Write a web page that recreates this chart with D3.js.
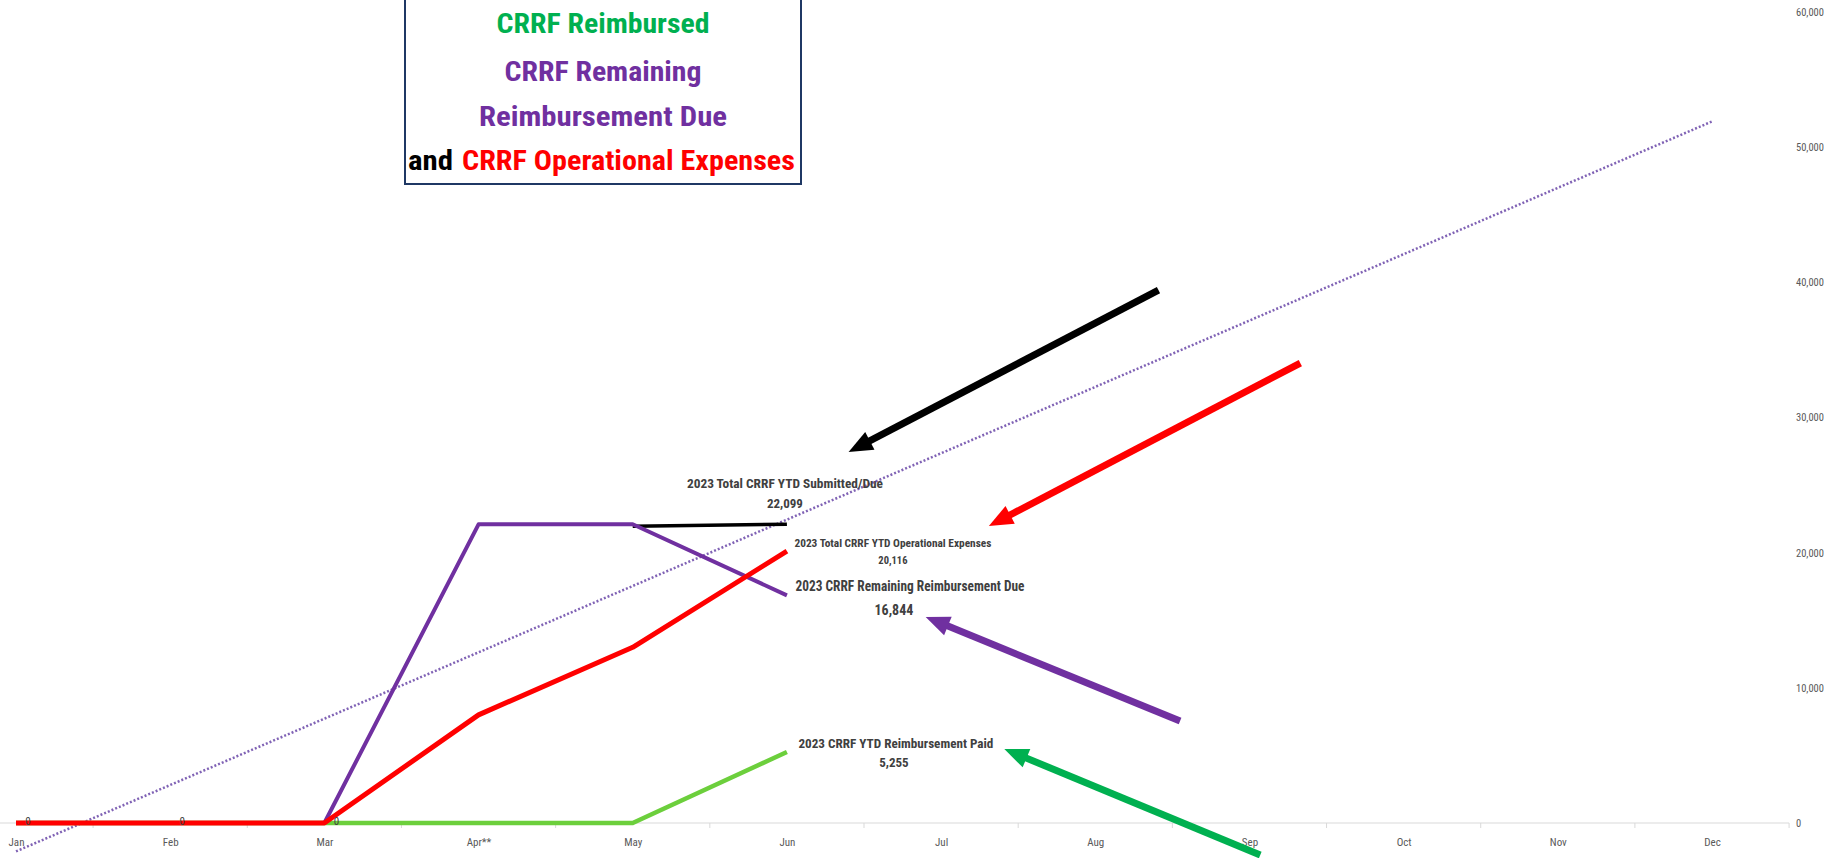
<!DOCTYPE html>
<html>
<head>
<meta charset="utf-8">
<script src="https://cdn.jsdelivr.net/npm/d3@7"></script>
<style>
  body { margin: 0; background: #fff; }
  svg { display: block; }
  .cond { font-family: "Liberation Sans Narrow", "Arial Narrow", "Roboto Condensed", "Liberation Sans", sans-serif; }
</style>
</head>
<body>
<div id="chart"></div>
<script>
let months = ['Jan', 'Feb', 'Mar', 'Apr**', 'May', 'Jun', 'Jul', 'Aug', 'Sep', 'Oct', 'Nov', 'Dec']
let yTicks = [0, 10000, 20000, 30000, 40000, 50000, 60000]

// series values (null = no data yet)
let reimbursed = [0, 0, 0, 0, 0, 5255, null, null, null, null, null, null]
let remaining = [0, 0, 0, 22099, 22099, 16844, null, null, null, null, null, null]
let operational = [0, 0, 0, 8000, 13000, 20116, null, null, null, null, null, null]
let submitted = [null, null, null, null, 21950, 22099, null, null, null, null, null, null]
let zeroLabels = [0, 0, 0]
// linear trend of remaining due, Jan -> Dec
let trendEnds = [-2100, 51900]

// arrows as [monthIndex, value] pairs: start -> tip
let arrows = [
  { color: '#000000', from: [7.41, 39430], to: [5.40, 27450] },
  { color: '#ff0000', from: [8.33, 34030], to: [6.31, 21970] },
  { color: '#7030a0', from: [7.55, 7550], to: [5.90, 15240] },
  { color: '#00b050', from: [8.07, -2370], to: [6.41, 5480] }
]

let width = 1826, height = 858

let svg = d3.select('#chart')
  .append('svg')
  .attr('width', width)
  .attr('height', height)

let x = d3.scalePoint().domain(months).range([16, 1712])
let xi = d3.scaleLinear().domain([0, 11]).range([16, 1712])
let y = d3.scaleLinear().domain([0, 60000]).range([823, 12])
let step = x.step()

// x axis
let xAxis = svg.append('g')
  .attr('class', 'cond')
  .attr('transform', 'translate(0,' + y(0) + ')')
  .call(d3.axisBottom(x).tickSize(0).tickPadding(15))
xAxis.select('.domain').remove()
xAxis.selectAll('text').attr('fill', '#595959').style('font-size', '11px')
xAxis.append('line')
  .attr('x1', x('Jan') - step / 2).attr('x2', x('Dec') + step / 2)
  .attr('stroke', '#d9d9d9').attr('stroke-width', 1.2)
xAxis.selectAll('.bound')
  .data(months.slice(1).concat(['end']))
  .enter().append('line')
  .attr('x1', (d, i) => xi(i) + step / 2)
  .attr('x2', (d, i) => xi(i) + step / 2)
  .attr('y1', 0).attr('y2', 5)
  .attr('stroke', '#d9d9d9')

// y axis on right
let yAxis = svg.append('g')
  .attr('class', 'cond')
  .attr('transform', 'translate(1796,0)')
  .call(d3.axisRight(y).tickValues(yTicks).tickSize(0).tickPadding(0).tickFormat(d3.format(',')))
yAxis.select('.domain').remove()
yAxis.selectAll('text').attr('fill', '#595959').style('font-size', '10.5px')

// trendline
svg.append('line')
  .attr('x1', xi(0)).attr('y1', y(trendEnds[0]))
  .attr('x2', xi(11)).attr('y2', y(trendEnds[1]))
  .attr('stroke', '#8063b5')
  .attr('stroke-width', 2.5)
  .attr('stroke-dasharray', '2,2')

let line = d3.line()
  .defined(d => d != null)
  .x((d, i) => xi(i))
  .y(d => y(d))

function drawSeries(vals, color, w) {
  svg.append('path')
    .datum(vals)
    .attr('d', line)
    .attr('fill', 'none')
    .attr('stroke', color)
    .attr('stroke-width', w)
    .attr('stroke-linejoin', 'round')
}

drawSeries(reimbursed, '#6ccf3c', 4.5)
drawSeries(submitted, '#000000', 3.5)
drawSeries(remaining, '#7030a0', 4)
drawSeries(operational, '#ff0000', 5)

// zero data labels
svg.selectAll('.zero')
  .data(zeroLabels)
  .enter().append('text')
  .attr('class', 'cond')
  .attr('x', (d, i) => xi(i) + 12)
  .attr('y', y(0) + 2)
  .attr('text-anchor', 'middle')
  .attr('fill', '#404040')
  .style('font-size', '11px')
  .text(d => d)

// end-of-series annotations
let fmt = d3.format(',')
let xJun = x('Jun')
let notes = [
  { t: '2023 Total CRRF YTD Submitted/Due', v: 22099, dx: -2, dy: -36, vdx: -2, vdy: -16, fs: 13, vfs: 13, len: 196 },
  { t: '2023 Total CRRF YTD Operational Expenses', v: 20116, dx: 106, dy: -4, vdx: 106, vdy: 13, fs: 10.5, vfs: 10.5, len: 197 },
  { t: '2023 CRRF Remaining Reimbursement Due', v: 16844, dx: 123, dy: -4, vdx: 107, vdy: 20, fs: 14, vfs: 14, len: 229 },
  { t: '2023 CRRF YTD Reimbursement Paid', v: 5255, dx: 109, dy: -4, vdx: 107, vdy: 15, fs: 13, vfs: 13, len: 195 }
]
notes.forEach(n => {
  svg.append('text')
    .attr('class', 'cond')
    .attr('x', xJun + n.dx).attr('y', y(n.v) + n.dy)
    .attr('text-anchor', 'middle')
    .attr('fill', '#404040')
    .attr('font-weight', 'bold')
    .attr('textLength', n.len)
    .attr('lengthAdjust', 'spacingAndGlyphs')
    .style('font-size', n.fs + 'px')
    .text(n.t)
  svg.append('text')
    .attr('class', 'cond')
    .attr('x', xJun + n.vdx).attr('y', y(n.v) + n.vdy)
    .attr('text-anchor', 'middle')
    .attr('fill', '#404040')
    .attr('font-weight', 'bold')
    .style('font-size', n.vfs + 'px')
    .text(fmt(n.v))
})

// arrows
arrows.forEach(a => {
  let x0 = xi(a.from[0]), y0 = y(a.from[1])
  let x1 = xi(a.to[0]), y1 = y(a.to[1])
  let ang = Math.atan2(y1 - y0, x1 - x0)
  let hl = 24, hw = 10
  let bx = x1 - hl * Math.cos(ang), by = y1 - hl * Math.sin(ang)
  svg.append('line')
    .attr('x1', x0).attr('y1', y0)
    .attr('x2', x1 - hl * 0.7 * Math.cos(ang)).attr('y2', y1 - hl * 0.7 * Math.sin(ang))
    .attr('stroke', a.color).attr('stroke-width', 7)
  let px = -Math.sin(ang), py = Math.cos(ang)
  svg.append('polygon')
    .attr('points', [[x1, y1], [bx + px * hw, by + py * hw], [bx - px * hw, by - py * hw]].join(' '))
    .attr('fill', a.color)
})

// title box
let tb = svg.append('g')
tb.append('rect')
  .attr('x', 405).attr('y', -5).attr('width', 396).attr('height', 189)
  .attr('fill', '#fff').attr('stroke', '#1f3864').attr('stroke-width', 2)
let titleLines = [
  { t: 'CRRF Reimbursed', c: '#00b050', y: 33, len: 213 },
  { t: 'CRRF Remaining', c: '#7030a0', y: 81, len: 197 },
  { t: 'Reimbursement Due', c: '#7030a0', y: 126, len: 248 }
]
titleLines.forEach(l => {
  tb.append('text')
    .attr('class', 'cond')
    .attr('x', 603).attr('y', l.y)
    .attr('text-anchor', 'middle')
    .attr('fill', l.c)
    .attr('font-weight', 'bold')
    .attr('textLength', l.len)
    .attr('lengthAdjust', 'spacingAndGlyphs')
    .style('font-size', '27px')
    .text(l.t)
})
let last = tb.append('text')
  .attr('class', 'cond')
  .attr('y', 170)
  .attr('font-weight', 'bold')
  .style('font-size', '27px')
last.append('tspan').attr('x', 408).attr('fill', '#000')
  .attr('textLength', 45).attr('lengthAdjust', 'spacingAndGlyphs').text('and')
last.append('tspan').attr('x', 462).attr('fill', '#ff0000')
  .attr('textLength', 333).attr('lengthAdjust', 'spacingAndGlyphs').text('CRRF Operational Expenses')
</script>
</body>
</html>
